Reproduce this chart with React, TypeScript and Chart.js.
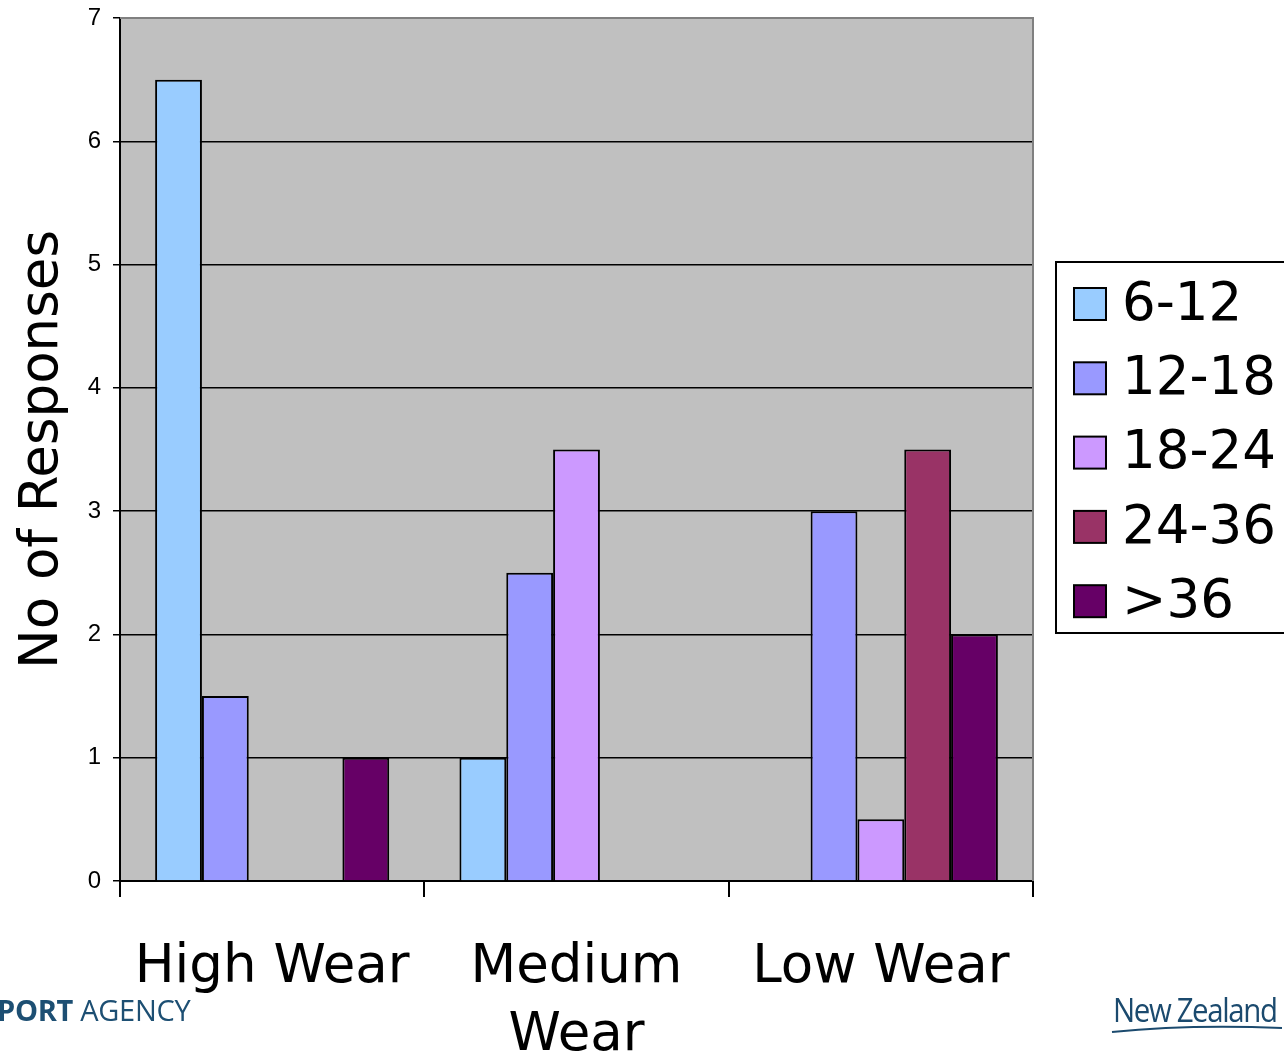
import React, { useEffect, useRef } from "react";
import { Chart, registerables } from "chart.js";

Chart.register(...registerables);

const categories: (string | string[])[] = ["High Wear", ["Medium", "Wear"], "Low Wear"];
const seriesNames = ["6-12", "12-18", "18-24", "24-36", ">36"];
const seriesColors = ["#99CCFF", "#9999FF", "#CC99FF", "#993366", "#660066"];
const s612 = [6.5, 1, 0];
const s1218 = [1.5, 2.5, 3];
const s1824 = [0, 3.5, 0.5];
const s2436 = [0, 0, 3.5];
const s36 = [1, 0, 2];
const seriesValues = [s612, s1218, s1824, s2436, s36];
const yTicks = [0, 1, 2, 3, 4, 5, 6, 7];

const W = 1284;
const H = 1051;

const plotBg = {
  id: "plotBg",
  beforeDraw(chart: any) {
    const { ctx, chartArea } = chart;
    ctx.save();
    ctx.fillStyle = "#C0C0C0";
    ctx.fillRect(chartArea.left, chartArea.top, chartArea.right - chartArea.left, chartArea.bottom - chartArea.top);
    ctx.restore();
  },
  afterDatasetsDraw(chart: any) {
    const { ctx, chartArea } = chart;
    ctx.save();
    ctx.strokeStyle = "#808080";
    ctx.lineWidth = 2;
    ctx.beginPath();
    ctx.moveTo(chartArea.left, chartArea.top);
    ctx.lineTo(chartArea.right, chartArea.top);
    ctx.lineTo(chartArea.right, chartArea.bottom);
    ctx.stroke();
    ctx.restore();
  },
};

const boxLegend = {
  id: "boxLegend",
  afterDraw(chart: any) {
    const { ctx } = chart;
    const ds = chart.data.datasets;
    const left = 1056;
    const top = 262;
    const bottom = 633;
    ctx.save();
    ctx.fillStyle = "#FFFFFF";
    ctx.fillRect(left, top, W - left + 5, bottom - top);
    ctx.strokeStyle = "#000";
    ctx.lineWidth = 2;
    ctx.strokeRect(left, top, W - left + 10, bottom - top);
    ctx.font = "53px 'DejaVu Sans'";
    ctx.textBaseline = "middle";
    ctx.textAlign = "left";
    const step = 74.3;
    ds.forEach((d: any, i: number) => {
      const cy = 304 + i * step;
      ctx.fillStyle = d.backgroundColor;
      ctx.fillRect(1074, cy - 16, 32, 32);
      ctx.strokeStyle = "#000";
      ctx.lineWidth = 2;
      ctx.strokeRect(1074, cy - 16, 32, 32);
      ctx.fillStyle = "#000";
      ctx.fillText(d.label, 1122, cy + 2);
    });
    ctx.restore();
  },
};

export default function App() {
  const ref = useRef<HTMLCanvasElement>(null);
  useEffect(() => {
    if (!ref.current) return;
    const chart = new Chart(ref.current, {
      type: "bar",
      data: {
        labels: categories,
        datasets: seriesNames.map((name, i) => ({
          label: name,
          data: seriesValues[i],
          backgroundColor: seriesColors[i],
          borderColor: "#000000",
          borderWidth: 2,
          barPercentage: 1,
          categoryPercentage: 5 / 6.5,
        })),
      },
      options: {
        animation: false,
        responsive: false,
        devicePixelRatio: 1,
        layout: { padding: { left: 0, right: W - 1033, top: 18, bottom: 0 } },
        plugins: { legend: { display: false }, tooltip: { enabled: false } },
        scales: {
          x: {
            offset: true,
            grid: { display: true, drawOnChartArea: false, color: "#000", lineWidth: 2, tickLength: 16, offset: true },
            border: { color: "#000", width: 2 },
            ticks: {
              color: "#000",
              padding: 37,
              font: { family: "'DejaVu Sans'", size: 53, lineHeight: 1.28 },
            },
            afterFit(scale: any) {
              scale.height = H - 881;
              scale.paddingLeft = 0;
              scale.paddingRight = 0;
            },
          },
          y: {
            min: 0,
            max: 7,
            afterBuildTicks(scale: any) {
              scale.ticks = yTicks.map((v) => ({ value: v }));
            },
            grid: {
              color: (c: any) => (c.tick && c.tick.value === 7 ? "#808080" : "#000"),
              lineWidth: 1.5,
              tickLength: 7,
              tickColor: "#000",
            },
            border: { color: "#000", width: 2 },
            ticks: {
              color: "#000",
              padding: 12,
              font: { family: "'Liberation Sans', Arial", size: 24, lineHeight: 1 },
            },
            title: {
              display: true,
              text: "No of Responses",
              color: "#000",
              font: { family: "'DejaVu Sans'", size: 53, lineHeight: 1.2 },
              padding: { top: 11, bottom: 0 },
            },
            afterFit(scale: any) {
              scale.width = 120;
              scale.paddingTop = 0;
              scale.paddingBottom = 0;
            },
          },
        },
      },
      plugins: [plotBg, boxLegend],
    });
    return () => chart.destroy();
  }, []);

  return (
    <div style={{ position: "fixed", left: 0, top: 0, width: W, height: H, background: "#fff", overflow: "hidden" }}>
      <canvas ref={ref} width={W} height={H} style={{ position: "absolute", left: 0, top: 0, width: W, height: H }} />
      <div
        style={{
          position: "absolute",
          left: -3,
          top: 990,
          fontFamily: "'Open Sans', 'Noto Sans', sans-serif",
          fontSize: 29,
          color: "#1d4f73",
          whiteSpace: "nowrap",
          letterSpacing: -0.3,
        }}
      >
        <span style={{ fontWeight: 700 }}>PORT</span> AGENCY
      </div>
      <div
        style={{
          position: "absolute",
          left: 1113,
          top: 988,
          fontFamily: "'Open Sans', 'Noto Sans', sans-serif",
          fontSize: 32,
          color: "#1b4a6e",
          whiteSpace: "nowrap",
          letterSpacing: -1.5,
          transform: "scaleX(0.92)",
          transformOrigin: "left top",
        }}
      >
        New Zealand
      </div>
      <svg style={{ position: "absolute", left: 1110, top: 1024 }} width={174} height={12}>
        <path d="M2 8 Q 80 0 172 4" stroke="#1b4a6e" strokeWidth={2} fill="none" />
      </svg>
    </div>
  );
}
